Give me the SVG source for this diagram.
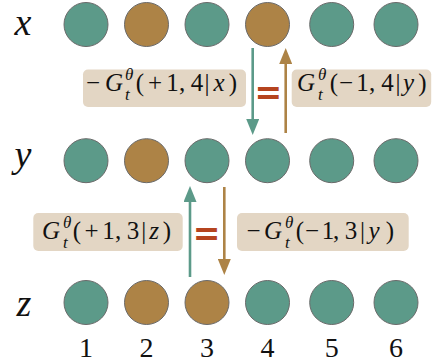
<svg xmlns="http://www.w3.org/2000/svg" width="433" height="364" viewBox="0 0 433 364">
<style>
.bg{fill:#ffffff}
.t{fill:#5c9a89;stroke:#6a6a6a;stroke-width:1}
.b{fill:#ad8346;stroke:#6a6a6a;stroke-width:1}
.box{fill:#e3d6c4}
.m{font-family:"Liberation Serif","DejaVu Serif",serif;font-size:25px;fill:#111;text-anchor:middle}
.i{font-style:italic}
.s{font-family:"Liberation Serif","DejaVu Serif",serif;font-size:17px;font-style:italic;fill:#111}
.row{font-family:"Liberation Serif","DejaVu Serif",serif;font-size:38px;font-style:italic;fill:#111;text-anchor:middle}
.num{font-family:"Liberation Serif","DejaVu Serif",serif;font-size:28px;fill:#111;text-anchor:middle}
.eq{font-family:"DejaVu Sans",sans-serif;font-weight:bold;font-size:33px;fill:#b5441f;text-anchor:middle}
.at{stroke:#5c9a89;stroke-width:2.6;fill:none}
.ab{stroke:#ad8346;stroke-width:2.6;fill:none}
</style>
<defs>
<marker id="hT" markerUnits="userSpaceOnUse" markerWidth="16" markerHeight="13" viewBox="0 0 16 13" refX="0" refY="6.5" orient="auto"><path d="M0,0 L16,6.5 L0,13 z" fill="#5c9a89"/></marker>
<marker id="hB" markerUnits="userSpaceOnUse" markerWidth="16" markerHeight="13" viewBox="0 0 16 13" refX="0" refY="6.5" orient="auto"><path d="M0,0 L16,6.5 L0,13 z" fill="#ad8346"/></marker>
</defs>
<rect class="bg" x="0" y="0" width="433" height="364"/>

<g id="row-x">
<text class="row" x="23" y="35">x</text>
<circle class="t" cx="86" cy="24.5" r="22"/>
<circle class="b" cx="146.5" cy="24.5" r="22"/>
<circle class="t" cx="207" cy="24.5" r="22"/>
<circle class="b" cx="267.5" cy="24.5" r="22"/>
<circle class="t" cx="331.7" cy="24.5" r="22"/>
<circle class="t" cx="396" cy="24.5" r="22"/>
</g>
<g id="row-y">
<text class="row" x="23" y="167">y</text>
<circle class="t" cx="86" cy="160.7" r="22"/>
<circle class="b" cx="146.5" cy="160.7" r="22"/>
<circle class="t" cx="207" cy="160.7" r="22"/>
<circle class="t" cx="267.5" cy="160.7" r="22"/>
<circle class="t" cx="331.7" cy="160.7" r="22"/>
<circle class="t" cx="396" cy="160.7" r="22"/>
</g>
<g id="row-z">
<text class="row" x="24" y="316">z</text>
<circle class="t" cx="86" cy="302.5" r="22"/>
<circle class="b" cx="146.5" cy="302.5" r="22"/>
<circle class="b" cx="207" cy="302.5" r="22"/>
<circle class="t" cx="267.5" cy="302.5" r="22"/>
<circle class="t" cx="331.7" cy="302.5" r="22"/>
<circle class="t" cx="396" cy="302.5" r="22"/>
</g>
<g id="indices">
<text class="num" x="86" y="356.5">1</text>
<text class="num" x="146.5" y="356.5">2</text>
<text class="num" x="207" y="356.5">3</text>
<text class="num" x="267.5" y="356.5">4</text>
<text class="num" x="331.7" y="356.5">5</text>
<text class="num" x="396" y="356.5">6</text>
</g>

<g id="connectors">
<line class="at" x1="252.7" y1="48" x2="252.7" y2="119" marker-end="url(#hT)"/>
<line class="ab" x1="285.7" y1="133" x2="285.7" y2="64" marker-end="url(#hB)"/>
<line class="at" x1="190" y1="277" x2="190" y2="202" marker-end="url(#hT)"/>
<line class="ab" x1="224.3" y1="187" x2="224.3" y2="259" marker-end="url(#hB)"/>
</g>

<g id="label-x-plus">
<rect class="box" x="83" y="69.5" width="163" height="37.5" rx="5"/>
<text class="m" y="91"><tspan x="93">−</tspan><tspan class="i" x="114">G</tspan><tspan x="140">(</tspan><tspan x="155">+</tspan><tspan x="172.5">1</tspan><tspan x="182">,</tspan><tspan x="197">4</tspan><tspan x="207">|</tspan><tspan class="i" x="219">x</tspan><tspan x="233">)</tspan></text>
<text class="s" x="125" y="80">θ</text>
<text class="s" x="125" y="100">t</text>
</g>
<g id="eq-top">
<text class="eq" x="268.3" y="103.7">=</text>
</g>
<g id="label-y-minus">
<rect class="box" x="291.7" y="69.5" width="139.5" height="37.5" rx="5"/>
<text class="m" y="91"><tspan class="i" x="306">G</tspan><tspan x="334">(</tspan><tspan x="346">−</tspan><tspan x="362.5">1</tspan><tspan x="372">,</tspan><tspan x="387.5">4</tspan><tspan x="398">|</tspan><tspan class="i" x="408.5">y</tspan><tspan x="422.5">)</tspan></text>
<text class="s" x="318" y="80">θ</text>
<text class="s" x="318" y="100">t</text>
</g>

<g id="label-z-plus">
<rect class="box" x="33.3" y="213" width="149.4" height="38" rx="5"/>
<text class="m" y="239"><tspan class="i" x="51">G</tspan><tspan x="77">(</tspan><tspan x="91.5">+</tspan><tspan x="108.5">1</tspan><tspan x="118">,</tspan><tspan x="133">3</tspan><tspan x="143.7">|</tspan><tspan class="i" x="154">z</tspan><tspan x="167">)</tspan></text>
<text class="s" x="63" y="228">θ</text>
<text class="s" x="63" y="248">t</text>
</g>
<g id="eq-bottom">
<text class="eq" x="206.7" y="244.7">=</text>
</g>
<g id="label-y-minus-3">
<rect class="box" x="237" y="213" width="171.7" height="38" rx="5"/>
<text class="m" y="239"><tspan x="253.5">−</tspan><tspan class="i" x="273">G</tspan><tspan x="300">(</tspan><tspan x="312">−</tspan><tspan x="328">1</tspan><tspan x="336">,</tspan><tspan x="351">3</tspan><tspan x="362.5">|</tspan><tspan class="i" x="374">y</tspan><tspan x="390">)</tspan></text>
<text class="s" x="285" y="228">θ</text>
<text class="s" x="285" y="248">t</text>
</g>
</svg>
